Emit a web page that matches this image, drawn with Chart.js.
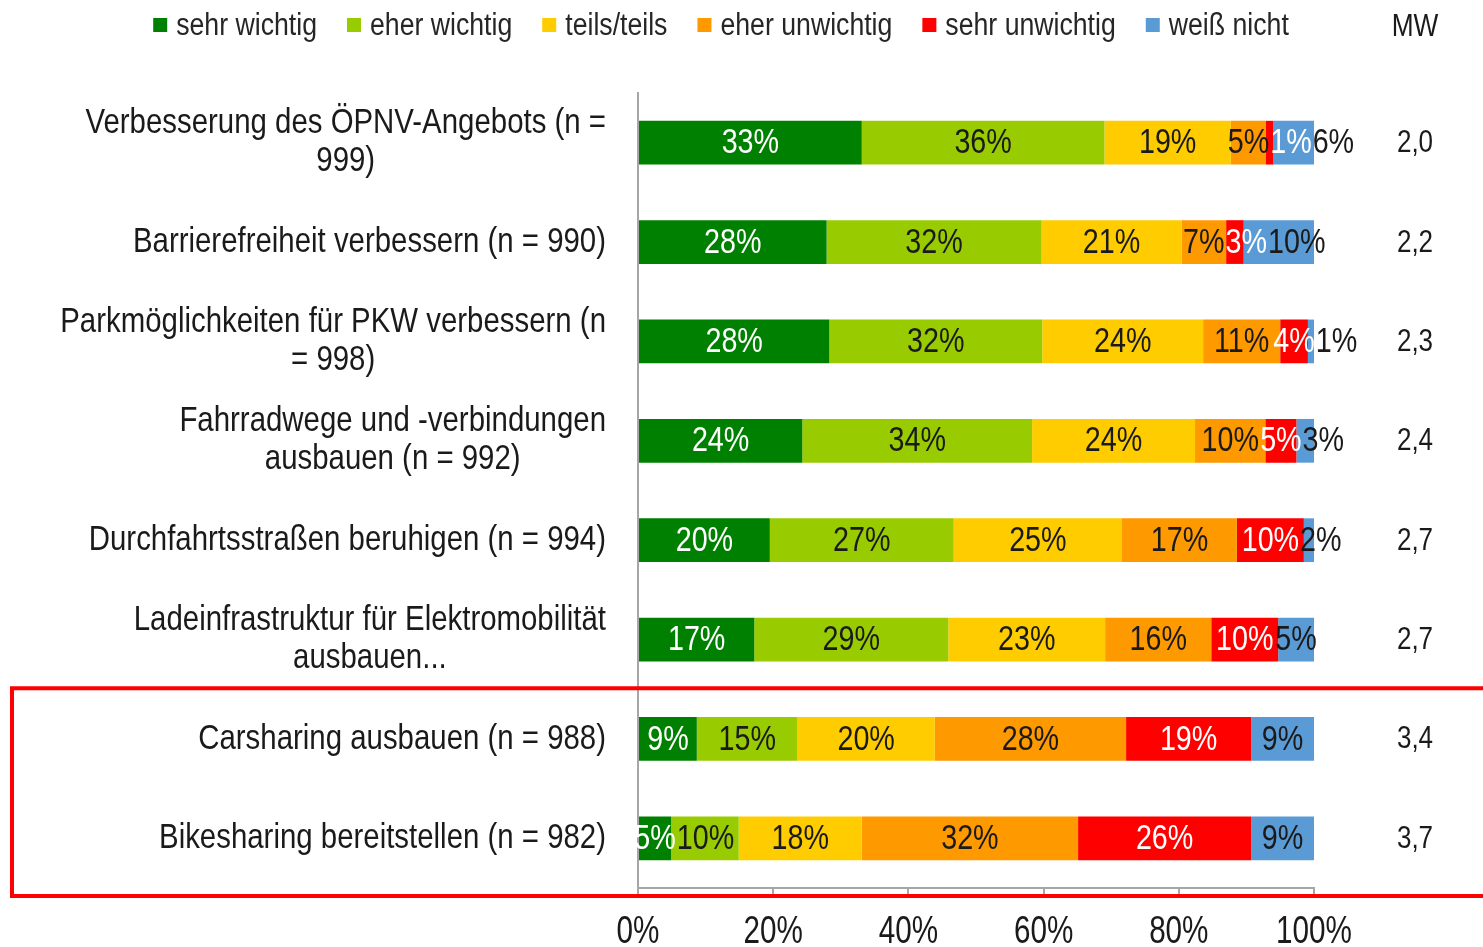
<!DOCTYPE html>
<html><head><meta charset="utf-8">
<script src="https://cdn.jsdelivr.net/npm/chart.js@4.4.1/dist/chart.umd.min.js"></script>
<style>html,body{margin:0;padding:0;background:#fff;}#wrap{width:1483px;height:947px;position:relative;}</style>
</head><body><div id="wrap"><canvas id="c" width="1483" height="947"></canvas></div>
<script>
const categories = [
  ["Verbesserung des ÖPNV-Angebots (n =", "999)"],
  ["Barrierefreiheit verbessern (n = 990)"],
  ["Parkmöglichkeiten für PKW verbessern (n", "= 998)"],
  ["Fahrradwege und -verbindungen", "ausbauen (n = 992)"],
  ["Durchfahrtsstraßen beruhigen (n = 994)"],
  ["Ladeinfrastruktur für Elektromobilität", "ausbauen..."],
  ["Carsharing ausbauen (n = 988)"],
  ["Bikesharing bereitstellen (n = 982)"]
];
const seriesNames = ["sehr wichtig", "eher wichtig", "teils/teils", "eher unwichtig", "sehr unwichtig", "weiß nicht"];
const sehrWichtig   = [33.1, 27.9, 28.3, 24.3, 19.5, 17.2,  8.7,  4.9];
const eherWichtig   = [35.9, 31.8, 31.5, 34.0, 27.2, 28.7, 14.9, 10.0];
const teilsTeils    = [18.7, 20.7, 23.8, 24.1, 24.9, 23.2, 20.3, 18.2];
const eherUnwichtig = [ 5.2,  6.6, 11.4, 10.4, 17.0, 15.7, 28.3, 32.0];
const sehrUnwichtig = [ 1.1,  2.6,  4.1,  4.6,  9.9,  9.9, 18.5, 25.6];
const weissNicht    = [ 6.0, 10.4,  0.9,  2.6,  1.5,  5.3,  9.3,  9.3];
const mwValues = ["2,0", "2,2", "2,3", "2,4", "2,7", "2,7", "3,4", "3,7"];
const mwHeader = "MW";
const xTickValues = [0, 20, 40, 60, 80, 100];

const seriesColors = ["#008000", "#99cc00", "#ffcc00", "#ff9900", "#ff0000", "#5b9bd5"];
const labelColors  = ["#ffffff", "#1a1a1a", "#1a1a1a", "#1a1a1a", "#ffffff", "#1a1a1a"];
const FONT = "'Liberation Sans', Arial, sans-serif";
const SX = 0.82; // horizontal condensing to imitate a narrow face
const seriesData = [sehrWichtig, eherWichtig, teilsTeils, eherUnwichtig, sehrUnwichtig, weissNicht];

function narrowWidth(ctx, text, sx) { return ctx.measureText(text).width * sx; }
function narrowText(ctx, text, x, y, align, sx) {
  const w = narrowWidth(ctx, text, sx);
  const left = align === 'center' ? x - w / 2 : (align === 'right' ? x - w : x);
  ctx.save();
  ctx.translate(left, y);
  ctx.scale(sx, 1);
  ctx.textAlign = 'left';
  ctx.fillText(text, 0, 0);
  ctx.restore();
  return w;
}

const segLabels = {
  id: 'segLabels',
  afterDatasetsDraw(chart) {
    const ctx = chart.ctx;
    ctx.save();
    ctx.font = `35px ${FONT}`;
    ctx.textBaseline = 'middle';
    const n = chart.data.labels.length;
    for (let i = 0; i < n; i++) {
      let prevRight = -Infinity;
      chart.data.datasets.forEach((ds, d) => {
        const el = chart.getDatasetMeta(d).data[i];
        const txt = Math.round(ds.data[i]) + '%';
        const w = narrowWidth(ctx, txt, SX);
        const cx = (el.x + el.base) / 2;
        let left = cx - w / 2;
        if (left < prevRight + 1) left = prevRight + 1;
        ctx.fillStyle = labelColors[d];
        narrowText(ctx, txt, left, el.y + 1, 'left', SX);
        prevRight = left + w;
      });
    }
    ctx.restore();
  }
};

const extras = {
  id: 'extras',
  afterDraw(chart) {
    const ctx = chart.ctx;
    const y = chart.scales.y;
    const x = chart.scales.x;
    const area = chart.chartArea;
    ctx.save();
    ctx.fillStyle = '#1a1a1a';
    ctx.textBaseline = 'middle';
    // category labels (right-aligned block, lines centred)
    ctx.font = `35px ${FONT}`;
    const csx = 0.84;
    const rightEdge = area.left - 32;
    const lh = 38;
    categories.forEach((lines, i) => {
      const cy = y.getPixelForValue(i);
      const maxW = Math.max(...lines.map(l => narrowWidth(ctx, l, csx)));
      const cx = rightEdge - maxW / 2;
      const y0 = cy - (lines.length - 1) * lh / 2;
      lines.forEach((l, k) => narrowText(ctx, l, cx, y0 + k * lh, 'center', csx));
    });
    // x tick labels
    ctx.font = `38px ${FONT}`;
    ctx.textBaseline = 'alphabetic';
    xTickValues.forEach(v => narrowText(ctx, v + '%', x.getPixelForValue(v), 943, 'center', 0.78));
    ctx.textBaseline = 'middle';
    // MW column
    ctx.font = `32px ${FONT}`;
    narrowText(ctx, mwHeader, 1415, 27, 'center', SX);
    ctx.font = `31px ${FONT}`;
    mwValues.forEach((v, i) => narrowText(ctx, v, 1415, y.getPixelForValue(i) + 1, 'center', 0.84));
    // legend
    ctx.font = `31px ${FONT}`;
    const box = 14, gapBoxText = 9, gapItems = 30, lsx = 0.86;
    const items = chart.data.datasets.map(ds => ({ text: ds.label, color: ds.backgroundColor, w: narrowWidth(ctx, ds.label, lsx) }));
    const total = items.reduce((s, it) => s + box + gapBoxText + it.w, 0) + gapItems * (items.length - 1);
    let lx = 721 - total / 2;
    const ly = 25;
    items.forEach(it => {
      ctx.fillStyle = it.color;
      ctx.fillRect(lx, ly - box / 2, box, box);
      ctx.fillStyle = '#262626';
      narrowText(ctx, it.text, lx + box + gapBoxText, ly + 1, 'left', lsx);
      lx += box + gapBoxText + it.w + gapItems;
    });
    // highlight box
    const top = (y.getPixelForValue(5) + y.getPixelForValue(6)) / 2 - 1;
    const bottom = area.bottom + 8;
    ctx.strokeStyle = '#ff0000';
    ctx.lineWidth = 4;
    ctx.strokeRect(12, top, 1500, bottom - top);
    ctx.restore();
  }
};

new Chart(document.getElementById('c'), {
  type: 'bar',
  data: {
    labels: categories.map(c => c.join(' ')),
    datasets: seriesNames.map((name, d) => ({
      label: name,
      data: seriesData[d],
      backgroundColor: seriesColors[d],
      borderWidth: 0,
      barPercentage: 0.44,
      categoryPercentage: 1
    }))
  },
  options: {
    indexAxis: 'y',
    responsive: false,
    animation: false,
    layout: { padding: { top: 93, left: 0, right: 169, bottom: 0 } },
    scales: {
      x: {
        stacked: true, min: 0, max: 100, position: 'bottom',
        afterFit(s) { s.height = 59; },
        afterBuildTicks(s) { s.ticks = xTickValues.map(v => ({ value: v })); },
        grid: { drawOnChartArea: false, drawTicks: true, tickLength: 7, color: '#a6a6a6', lineWidth: 2 },
        border: { color: '#a6a6a6', width: 2 },
        ticks: { display: false }
      },
      y: {
        stacked: true,
        afterFit(s) { s.width = 638; },
        grid: { display: false },
        border: { color: '#a6a6a6', width: 2 },
        ticks: { display: false }
      }
    },
    plugins: {
      legend: { display: false },
      tooltip: { enabled: false }
    }
  },
  plugins: [segLabels, extras]
});
</script></body></html>
